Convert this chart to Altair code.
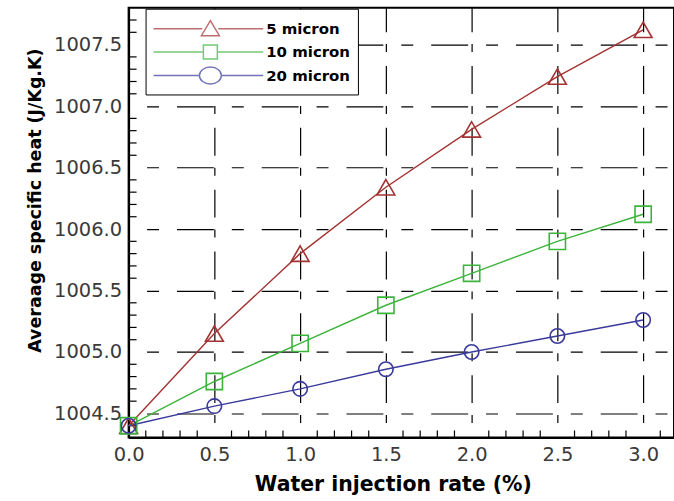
import altair as alt
import pandas as pd

# ---- data ----
x_vals = [0.0, 0.5, 1.0, 1.5, 2.0, 2.5, 3.0]
s5 = [1004.40, 1005.15, 1005.80, 1006.34, 1006.81, 1007.24, 1007.62]
s10 = [1004.40, 1004.76, 1005.07, 1005.38, 1005.64, 1005.90, 1006.12]
s20 = [1004.40, 1004.56, 1004.70, 1004.86, 1005.00, 1005.13, 1005.26]
series_names = ["5 micron", "10 micron", "20 micron"]
colors = ["#a33232", "#3cb43c", "#3a3a9c"]

x_ticks = [0.0, 0.5, 1.0, 1.5, 2.0, 2.5, 3.0]
y_ticks = [1004.5, 1005.0, 1005.5, 1006.0, 1006.5, 1007.0, 1007.5]
x_minor = [round(0.1 * i, 1) for i in range(1, 32) if i % 5 != 0]
y_minor = [round(1004.4 + 0.1 * i, 1) for i in range(0, 34) if round(1004.4 + 0.1 * i, 1) not in y_ticks]

X_DOMAIN = [0, 3.18]
Y_DOMAIN = [1004.305, 1007.8]

rows = []
for name, vals in zip(series_names, [s5, s10, s20]):
    for xv, yv in zip(x_vals, vals):
        rows.append({"rate": xv, "cp": yv, "series": name})
df = pd.DataFrame(rows)

W, H = 547, 431

xs = alt.Scale(domain=X_DOMAIN, nice=False, zero=False)
ys = alt.Scale(domain=Y_DOMAIN, nice=False, zero=False)
col_scale = alt.Scale(domain=series_names, range=colors)

x_axis = alt.Axis(
    values=x_ticks, format=".1f", title="Water injection rate (%)",
    labelFont="DejaVu Sans", labelFontSize=19.5, labelColor="#3a3a3a", labelPadding=8,
    labelFlush=False, labelOverlap=False,
    ticks=False, domainColor="black", domainWidth=2,
    grid=True, gridColor="black", gridWidth=1.2, gridDash=[28, 12, 8, 14], gridDashOffset=4,
    titleFont="DejaVu Sans", titleFontSize=20.5, titleFontWeight="bold", titleColor="black",
    titlePadding=11, titleX=265,
)
y_axis = alt.Axis(
    values=y_ticks, format=".1f", title="Averaage specific heat (J/Kg.K)",
    labelFont="DejaVu Sans", labelFontSize=19.5, labelColor="#3a3a3a", labelPadding=7,
    labelFlush=False, labelOverlap=False,
    ticks=False, domainColor="black", domainWidth=2,
    grid=True, gridColor="black", gridWidth=1.2, gridDash=[37, 18, 12, 18], gridDashOffset=37,
    titleFont="DejaVu Sans", titleFontSize=17.5, titleFontWeight="bold", titleColor="black",
    titlePadding=9, titleY=193,
)

base = alt.Chart(df)

lines = base.mark_line(strokeWidth=1.4).encode(
    x=alt.X("rate:Q", scale=xs, axis=x_axis),
    y=alt.Y("cp:Q", scale=ys, axis=y_axis),
    color=alt.Color("series:N", scale=col_scale, legend=None),
    detail="series:N",
)

points = base.mark_point(filled=False, strokeWidth=1.6, opacity=1).encode(
    x=alt.X("rate:Q", scale=xs),
    y=alt.Y("cp:Q", scale=ys),
    color=alt.Color("series:N", scale=col_scale, legend=None),
    shape=alt.Shape("series:N", scale=alt.Scale(domain=series_names,
                                                range=["triangle-up", "square", "circle"]), legend=None),
    size=alt.Size("series:N", scale=alt.Scale(domain=series_names, range=[320, 210, 400]), legend=None),
)

# legend symbols: a 110px line with the marker in the middle (units of 12 px)
def u(px):
    return round(px / 12.0, 3)

L0, L1, MC = u(-12), u(98), u(45)
tri_path = (f"M{L0},0H{u(45-8)}M{u(45+8)},0H{L1}"
            f"M{MC},{u(-8)}L{u(45+9)},{u(7)}L{u(45-9)},{u(7)}Z")
sq_path = (f"M{L0},0H{u(45-7)}M{u(45+7)},0H{L1}"
           f"M{u(45-7)},{u(-7)}H{u(45+7)}V{u(7)}H{u(45-7)}Z")
circ_path = (f"M{L0},0H{u(45-11)}M{u(45+11)},0H{L1}"
             f"M{u(45-11)},0A{u(11)},{u(8.5)} 0 1,0 {u(45+11)},0A{u(11)},{u(8.5)} 0 1,0 {u(45-11)},0Z")

legend_layer = base.transform_filter("false").mark_point(filled=False).encode(
    x=alt.X("rate:Q", scale=xs),
    y=alt.Y("cp:Q", scale=ys),
    stroke=alt.Stroke("series:N", scale=alt.Scale(domain=series_names, range=colors),
                      legend=alt.Legend(title=None)),
    shape=alt.Shape("series:N", scale=alt.Scale(domain=series_names,
                                                range=[tri_path, sq_path, circ_path]),
                    legend=alt.Legend(
                        title=None, orient="none", legendX=17, legendY=1,
                        symbolSize=576, symbolStrokeWidth=1.5, symbolFillColor="transparent",
                        labelFont="DejaVu Sans", labelFontWeight="bold", labelFontSize=15,
                        labelColor="black", labelOffset=88,
                        strokeColor="black", fillColor="white", padding=7, rowPadding=0.5,
                    )),
)

minor_x = alt.Chart(pd.DataFrame({"v": x_minor})).mark_rule(color="black", strokeWidth=1.2).encode(
    x=alt.X("v:Q", scale=xs), y=alt.value(H), y2=alt.value(H - 7))
minor_y = alt.Chart(pd.DataFrame({"v": y_minor})).mark_rule(color="black", strokeWidth=1.2).encode(
    y=alt.Y("v:Q", scale=ys), x=alt.value(0), x2=alt.value(8))

chart = alt.layer(minor_x, minor_y, lines, points, legend_layer).resolve_scale(
    shape="independent", stroke="independent", size="independent"
).properties(
    width=W, height=H,
    autosize=alt.AutoSizeParams(type="none"),
    padding={"left": 129, "top": 7, "right": 0, "bottom": 63},
    background="white",
).configure_view(stroke="black", strokeWidth=2)

chart.save("out.html", embed_options={"renderer": "svg", "actions": False})
